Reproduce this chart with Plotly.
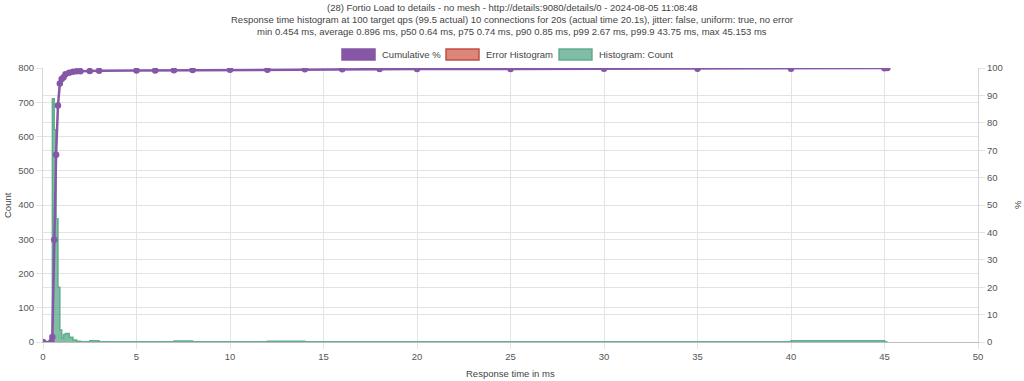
import plotly.graph_objects as go

# ---- data ----
title_lines = [
    "(28) Fortio Load to details - no mesh - http://details:9080/details/0 - 2024-08-05 11:08:48",
    "Response time histogram at 100 target qps (99.5 actual) 10 connections for 20s (actual time 20.1s), jitter: false, uniform: true, no error",
    "min 0.454 ms, average 0.896 ms, p50 0.64 ms, p75 0.74 ms, p90 0.85 ms, p99 2.67 ms, p99.9 43.75 ms, max 45.153 ms",
]

hist_start = [0.454, 0.5, 0.6, 0.7, 0.8, 0.9, 1.0, 1.1, 1.2, 1.4, 1.6, 1.8, 2.0, 2.5, 4.5,
              5, 6, 7, 8, 10, 12, 14, 16, 18, 20, 25, 30, 35, 40, 45]
hist_end = [0.5, 0.6, 0.7, 0.8, 0.9, 1.0, 1.1, 1.2, 1.4, 1.6, 1.8, 2.0, 2.5, 3.0, 5,
            6, 7, 8, 10, 12, 14, 16, 18, 20, 25, 30, 35, 40, 45, 45.153]
hist_count = [36, 710, 620, 360, 160, 35, 12, 22, 25, 14, 6, 2, 1, 4, 1,
              1, 1, 3, 1, 1, 2, 1, 1, 1, 1, 1, 1, 1, 4, 1]

cum_x = [0, 0.454, 0.5, 0.6, 0.7, 0.8, 0.9, 1.0, 1.1, 1.2, 1.4, 1.6, 1.8, 2.0, 2.5, 3.0,
         5, 6, 7, 8, 10, 12, 14, 16, 18, 20, 25, 30, 35, 40, 45, 45.153]
cum_pct = [0, 0.05, 1.8, 37.3, 68.3, 86.3, 94.3, 96.0, 96.6, 97.7, 98.3, 98.6, 98.8, 98.85, 98.9, 99.02,
           99.05, 99.1, 99.15, 99.3, 99.35, 99.4, 99.5, 99.55, 99.6, 99.65, 99.68, 99.7, 99.73, 99.75, 99.95, 100]

legend_labels = ["Cumulative %", "Error Histogram", "Histogram: Count"]

# ---- styling ----
W, H = 1024, 381
L, R, T, B = 43, 46, 68, 39
PW, PH = W - L - R, H - T - B
FONT = "Liberation Sans, Arial, Helvetica, sans-serif"
TXT = "#555555"
GRID = "#e3e3e3"
PURPLE = "rgb(134,87,167)"
GREEN_LINE = "rgba(87,167,134,0.9)"
GREEN_FILL = "rgba(87,167,134,0.75)"
RED_LINE = "rgba(192,72,60,0.95)"
RED_FILL = "rgba(214,112,98,0.85)"


def px(x):
    return (x - L) / PW


def py(y):
    return (T + PH - y) / PH


hx, hy = [], []
for s, e, c in zip(hist_start, hist_end, hist_count):
    hx += [s, e]
    hy += [c, c]

fig = go.Figure()
fig.add_trace(go.Scatter(
    x=hx, y=hy, mode="lines", line=dict(color=GREEN_LINE, width=1.5, shape="vh"),
    fill="tozeroy", fillcolor=GREEN_FILL, yaxis="y", name=legend_labels[2], showlegend=False))
fig.add_trace(go.Scatter(
    x=cum_x, y=cum_pct, mode="lines+markers", line=dict(color=PURPLE, width=2.5),
    marker=dict(color=PURPLE, size=6.5), yaxis="y2", name=legend_labels[0], showlegend=False))

axis_common = dict(
    showgrid=True, gridcolor=GRID, gridwidth=1, zeroline=False,
    ticks="outside", ticklen=6, tickcolor=GRID,
    tickfont=dict(family=FONT, size=9.5, color=TXT),
)

fig.update_layout(
    width=W, height=H,
    margin=dict(l=L, r=R, t=T, b=B, pad=0),
    paper_bgcolor="white", plot_bgcolor="white",
    showlegend=False,
    xaxis=dict(range=[0, 50], dtick=5, tick0=0, showline=True, linecolor="#bdbdbd",
               **axis_common),
    yaxis=dict(range=[0, 800], dtick=100, tick0=0, showline=True, linecolor="#d6d6d6",
               **axis_common),
    yaxis2=dict(range=[0, 100], dtick=10, tick0=0, overlaying="y", side="right",
                showline=True, linecolor="#d6d6d6", **axis_common),
)

ann = []
for i, line in enumerate(title_lines):
    ann.append(dict(text=line, x=(W / 2 - L) / PW, y=py(7 + 12 * i), xref="paper", yref="paper",
                    xanchor="center", yanchor="middle", showarrow=False,
                    font=dict(family=FONT, size=9.5, color="#444444")))
ann.append(dict(text="Count", x=px(7), y=py(205), xref="paper", yref="paper", textangle=-90,
                xanchor="center", yanchor="middle", showarrow=False,
                font=dict(family=FONT, size=9.5, color="#444444")))
ann.append(dict(text="%", x=px(1017), y=py(205), xref="paper", yref="paper", textangle=-90,
                xanchor="center", yanchor="middle", showarrow=False,
                font=dict(family=FONT, size=9.5, color="#444444")))
ann.append(dict(text="Response time in ms", x=px(510), y=py(373), xref="paper", yref="paper",
                xanchor="center", yanchor="middle", showarrow=False,
                font=dict(family=FONT, size=9.5, color="#444444")))

# custom Chart.js style legend
legend_boxes = [(342, 375, PURPLE, PURPLE), (446, 479, RED_FILL, RED_LINE), (559, 592, GREEN_FILL, GREEN_LINE)]
shapes = []
for (x0, x1, fc, lc), lab in zip(legend_boxes, legend_labels):
    shapes.append(dict(type="rect", xref="paper", yref="paper", x0=px(x0), x1=px(x1),
                       y0=py(60), y1=py(49), fillcolor=fc, line=dict(color=lc, width=1.5)))
    ann.append(dict(text=lab, x=px(x1 + 5), y=py(54.5), xref="paper", yref="paper",
                    xanchor="left", yanchor="middle", showarrow=False,
                    font=dict(family=FONT, size=9.5, color="#444444")))

fig.update_layout(annotations=ann, shapes=shapes)
fig.write_html("out.html", config={"displayModeBar": False},
               post_script="document.body.style.margin='0';document.body.style.overflow='hidden';")
